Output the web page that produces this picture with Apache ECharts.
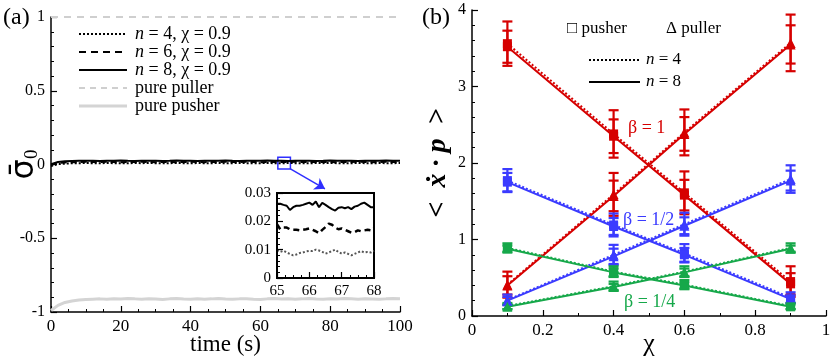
<!DOCTYPE html>
<html>
<head>
<meta charset="utf-8">
<script src="https://cdn.jsdelivr.net/npm/echarts@6/dist/echarts.min.js"></script>
<style>
  html, body { margin: 0; padding: 0; background: #fff; }
  #main { width: 830px; height: 359px; }
</style>
</head>
<body>
<div id="main"></div>
<script>
// ---- panel (a): time series, every 2 s ----
const timeA = [0,2,4,6,8,10,12,14,16,18,20,22,24,26,28,30,32,34,36,38,40,42,44,46,48,50,
  52,54,56,58,60,62,64,66,68,70,72,74,76,78,80,82,84,86,88,90,92,94,96,98,100]
const n8A = [0.002,0.017,0.022,0.024,0.025,0.026,0.025,0.024,0.026,0.025,
  0.027,0.025,0.024,0.026,0.025,0.026,0.024,0.025,0.027,0.026,
  0.025,0.024,0.026,0.025,0.026,0.027,0.025,0.024,0.025,0.026,
  0.025,0.027,0.026,0.025,0.024,0.026,0.025,0.026,0.024,0.025,
  0.027,0.026,0.025,0.026,0.024,0.025,0.026,0.025,0.027,0.025,0.026]
const n6A = [-0.004,0.010,0.014,0.016,0.017,0.018,0.017,0.016,0.018,0.017,
  0.016,0.018,0.017,0.019,0.017,0.016,0.017,0.018,0.016,0.017,
  0.018,0.017,0.016,0.018,0.017,0.019,0.017,0.016,0.018,0.017,
  0.016,0.017,0.018,0.017,0.016,0.018,0.017,0.016,0.017,0.018,
  0.017,0.016,0.018,0.017,0.019,0.017,0.016,0.017,0.018,0.017,0.017]
const n4A = [-0.010,0.003,0.006,0.008,0.009,0.010,0.009,0.008,0.010,0.009,
  0.009,0.008,0.010,0.009,0.011,0.009,0.008,0.009,0.010,0.009,
  0.008,0.010,0.009,0.009,0.010,0.008,0.009,0.011,0.009,0.008,
  0.009,0.010,0.009,0.008,0.010,0.009,0.009,0.008,0.010,0.009,
  0.011,0.009,0.008,0.009,0.010,0.009,0.008,0.010,0.009,0.009,0.010]
const pusherA = [-0.990,-0.955,-0.935,-0.925,-0.918,-0.915,-0.913,-0.911,-0.914,-0.910,
  -0.912,-0.909,-0.911,-0.914,-0.910,-0.912,-0.915,-0.911,-0.909,-0.912,
  -0.914,-0.910,-0.913,-0.911,-0.908,-0.912,-0.914,-0.911,-0.910,-0.913,
  -0.915,-0.911,-0.909,-0.912,-0.910,-0.913,-0.911,-0.908,-0.912,-0.914,
  -0.910,-0.912,-0.909,-0.911,-0.913,-0.910,-0.912,-0.914,-0.911,-0.909,-0.911]
const pullerT = [0, 100]
const pullerA = [1, 1]

// inset, 65 - 68 s
const insetT = [65,65.1,65.2,65.3,65.4,65.5,65.6,65.7,65.8,65.9,66,66.1,66.2,66.3,66.4,66.5,
  66.6,66.7,66.8,66.9,67,67.1,67.2,67.3,67.4,67.5,67.6,67.7,67.8,67.9,68]
const n8In = [0.0262,0.0262,0.0258,0.0255,0.0240,0.0250,0.0255,0.0255,0.0258,0.0262,0.0266,
  0.0258,0.0270,0.0250,0.0265,0.0258,0.0250,0.0243,0.0238,0.0248,0.0250,0.0246,
  0.0250,0.0243,0.0252,0.0255,0.0262,0.0266,0.0258,0.0250,0.0250]
const n6In = [0.0190,0.0172,0.0178,0.0178,0.0172,0.0170,0.0170,0.0168,0.0170,0.0172,0.0175,
  0.0170,0.0165,0.0158,0.0170,0.0180,0.0192,0.0188,0.0178,0.0172,0.0175,0.0170,
  0.0165,0.0160,0.0162,0.0168,0.0165,0.0168,0.0170,0.0168,0.0178]
const n4In = [0.0098,0.0092,0.0096,0.0090,0.0085,0.0080,0.0083,0.0088,0.0090,0.0094,0.0096,
  0.0095,0.0100,0.0097,0.0092,0.0086,0.0090,0.0095,0.0100,0.0092,0.0086,0.0090,
  0.0085,0.0080,0.0085,0.0090,0.0095,0.0090,0.0092,0.0090,0.0096]

// ---- panel (b): <x.p> against chi ----
const chiB = [0.1, 0.4, 0.6, 0.9]
const redPush8 = [3.52, 2.35, 1.58, 0.42]
const redPush4 = [3.56, 2.38, 1.61, 0.45]
const redPull8 = [0.40, 1.57, 2.38, 3.55]
const redPull4 = [0.41, 1.59, 2.40, 3.57]
const bluePush8 = [1.75, 1.17, 0.80, 0.22]
const bluePush4 = [1.77, 1.19, 0.82, 0.24]
const bluePull8 = [0.20, 0.78, 1.18, 1.77]
const bluePull4 = [0.21, 0.80, 1.20, 1.79]
const greenPush8 = [0.88, 0.57, 0.40, 0.12]
const greenPush4 = [0.89, 0.58, 0.41, 0.13]
const greenPull8 = [0.12, 0.38, 0.57, 0.88]
const greenPull4 = [0.13, 0.39, 0.58, 0.89]
// error half-widths
const redPushErr4 = [0.29, 0.31, 0.28, 0.20]
const redPushErr8 = [0.21, 0.22, 0.20, 0.14]
const redPullErr4 = [0.17, 0.28, 0.30, 0.37]
const redPullErr8 = [0.12, 0.20, 0.22, 0.25]
const bluePushErr4 = [0.15, 0.15, 0.12, 0.07]
const bluePushErr8 = [0.12, 0.11, 0.09, 0.05]
const bluePullErr4 = [0.07, 0.13, 0.15, 0.18]
const bluePullErr8 = [0.05, 0.10, 0.11, 0.13]
const greenPushErr4 = [0.06, 0.07, 0.06, 0.04]
const greenPushErr8 = [0.04, 0.05, 0.04, 0.03]
const greenPullErr4 = [0.04, 0.06, 0.07, 0.06]
const greenPullErr8 = [0.03, 0.04, 0.05, 0.04]

const RED = '#d60000'
const BLUE = '#3b3bff'
const GREEN = '#16a84a'
const SERIF = '"Liberation Serif", serif'

const chart = echarts.init(document.getElementById('main'))

function pairs(xs, ys) {
  return xs.map((x, i) => [x, ys[i]])
}

function axisCommon(split, fontSize) {
  return {
    nameMoveOverlap: false,
    axisLine: { onZero: false, lineStyle: { color: '#000', width: 1.5 } },
    axisTick: { inside: true, length: 6, lineStyle: { color: '#000', width: 1.2 } },
    minorTick: { show: true, splitNumber: split, length: 3, lineStyle: { color: '#000', width: 1 } },
    splitLine: { show: false },
    axisLabel: { color: '#000', fontFamily: SERIF, fontSize: fontSize || 16, margin: 6 }
  }
}

function lineA(name, xs, ys, color, type, width, grid) {
  return {
    name: name, type: 'line', xAxisIndex: grid, yAxisIndex: grid,
    data: pairs(xs, ys), symbol: 'none', silent: true, z: grid === 1 ? 10 : 2,
    lineStyle: { color: color, type: type, width: width },
    itemStyle: { color: color }
  }
}

function lineB(ys, color, dotted, symbol) {
  return {
    type: 'line', xAxisIndex: 2, yAxisIndex: 2, data: pairs(chiB, ys),
    symbol: symbol, symbolSize: symbol === 'triangle' ? 10 : 9, silent: true,
    z: dotted ? 2 : 4,
    lineStyle: { color: color, width: 2, type: dotted ? [2, 2] : 'solid' },
    itemStyle: { color: color }
  }
}

function errB(ys, errs, color) {
  return {
    type: 'custom', xAxisIndex: 2, yAxisIndex: 2, z: 3, silent: true,
    data: chiB.map((x, i) => [x, ys[i] - errs[i], ys[i] + errs[i]]),
    encode: { x: 0, y: [1, 2] },
    renderItem(params, api) {
      const lo = api.coord([api.value(0), api.value(1)])
      const hi = api.coord([api.value(0), api.value(2)])
      const hw = 5
      const style = { stroke: color, lineWidth: 2.2 }
      return {
        type: 'group',
        children: [
          { type: 'line', shape: { x1: lo[0], y1: lo[1], x2: hi[0], y2: hi[1] }, style },
          { type: 'line', shape: { x1: lo[0] - hw, y1: lo[1], x2: lo[0] + hw, y2: lo[1] }, style },
          { type: 'line', shape: { x1: hi[0] - hw, y1: hi[1], x2: hi[0] + hw, y2: hi[1] }, style }
        ]
      }
    }
  }
}

const groupsB = [
  [redPush8, redPush4, redPushErr8, redPushErr4, RED, 'rect'],
  [redPull8, redPull4, redPullErr8, redPullErr4, RED, 'triangle'],
  [bluePush8, bluePush4, bluePushErr8, bluePushErr4, BLUE, 'rect'],
  [bluePull8, bluePull4, bluePullErr8, bluePullErr4, BLUE, 'triangle'],
  [greenPush8, greenPush4, greenPushErr8, greenPushErr4, GREEN, 'rect'],
  [greenPull8, greenPull4, greenPullErr8, greenPullErr4, GREEN, 'triangle']
]
const seriesB = []
groupsB.forEach(g => {
  seriesB.push(lineB(g[1], g[4], true, g[5]))
  seriesB.push(lineB(g[0], g[4], false, g[5]))
  seriesB.push(errB(g[1], g[3], g[4]))
  seriesB.push(errB(g[0], g[2], g[4]))
})

const n8Series = lineA('n = 8', timeA, n8A, '#000', 'solid', 2, 0)
n8Series.markArea = {
  silent: true,
  itemStyle: { color: 'rgba(0,0,0,0)', borderColor: '#2f2fff', borderWidth: 1.5 },
  data: [[{ xAxis: 65, yAxis: -0.03 }, { xAxis: 68.6, yAxis: 0.05 }]]
}
n8Series.markLine = {
  silent: true, symbol: ['none', 'arrow'], symbolSize: 10,
  label: { show: false },
  lineStyle: { color: '#2f2fff', width: 1.5, type: 'solid' },
  data: [[{ coord: [68.6, -0.03] }, { coord: [78.5, -0.165] }]]
}

// legend samples drawn as graphics
function legLine(x1, x2, y, color, dash, width) {
  return { type: 'line', z: 20, shape: { x1: x1, y1: y, x2: x2, y2: y },
    style: { stroke: color, lineWidth: width, lineDash: dash } }
}
function legText(x, y, text, size, color) {
  return { type: 'text', z: 20, x: x, y: y,
    style: { text: text, font: size + 'px "Liberation Serif"', fill: color || '#000',
      verticalAlign: 'middle',
      rich: { i: { font: 'italic ' + size + 'px "Liberation Serif"', fill: color || '#000' } } } }
}

const option = {
  animation: false,
  backgroundColor: '#fff',
  textStyle: { fontFamily: SERIF },
  grid: [
    { left: 51, top: 17, width: 349, height: 295, outerBoundsMode: 'none' },
    { left: 277, top: 193, width: 97, height: 85, show: true, borderColor: '#000', borderWidth: 2, backgroundColor: 'transparent', outerBoundsMode: 'none' },
    { left: 472, top: 10, width: 354, height: 306, outerBoundsMode: 'none' }
  ],
  xAxis: [
    Object.assign(axisCommon(4, 17), {
      gridIndex: 0, type: 'value', min: 0, max: 100, interval: 20,
      name: 'time (s)', nameLocation: 'middle', nameGap: 21,
      nameTextStyle: { color: '#000', fontFamily: SERIF, fontSize: 23 }
    }),
    Object.assign(axisCommon(4, 15), {
      gridIndex: 1, type: 'value', min: 65, max: 68, interval: 1, z: 12,
      axisLine: { onZero: false, lineStyle: { color: '#000', width: 2 } }
    }),
    Object.assign(axisCommon(2, 17), {
      gridIndex: 2, type: 'value', min: 0, max: 1, interval: 0.2,
      name: 'χ', nameLocation: 'middle', nameGap: 15,
      nameTextStyle: { color: '#000', fontFamily: SERIF, fontSize: 26 }
    })
  ],
  yAxis: [
    Object.assign(axisCommon(5, 16), {
      gridIndex: 0, type: 'value', min: -1, max: 1, interval: 0.5,
      name: '{s|σ\u0304}{sub|0}', nameLocation: 'middle', nameGap: 9,
      nameTextStyle: {
        color: '#000',
        rich: {
          s: { fontFamily: 'DejaVu Sans', fontSize: 32, color: '#000' },
          sub: { fontFamily: SERIF, fontSize: 19, color: '#000', padding: [16, 0, 0, 0] }
        }
      }
    }),
    Object.assign(axisCommon(5, 15), {
      gridIndex: 1, type: 'value', min: 0, max: 0.03, interval: 0.01, z: 12,
      axisLine: { onZero: false, lineStyle: { color: '#000', width: 2 } }
    }),
    Object.assign(axisCommon(5, 16), {
      gridIndex: 2, type: 'value', min: 0, max: 4, interval: 1,
      name: '<  ẋ · p  >', nameLocation: 'middle', nameGap: 20,
      nameTextStyle: { color: '#000', fontFamily: SERIF, fontSize: 28, fontWeight: 'bold', fontStyle: 'italic' }
    })
  ],
  graphic: [
    { type: 'text', left: 3, top: 6, style: { text: '(a)', font: '24px "Liberation Serif"', fill: '#000' } },
    { type: 'text', left: 422, top: 6, style: { text: '(b)', font: '24px "Liberation Serif"', fill: '#000' } },
    // panel (a) legend
    legLine(79, 127, 34, '#000', [2, 2], 2),
    legLine(79, 127, 52, '#000', [7, 5], 2),
    legLine(79, 127, 70, '#000', null, 2),
    legLine(79, 127, 88, '#cfcfcf', [6, 5], 2),
    legLine(79, 127, 106, '#d4d4d4', null, 3),
    legText(135, 34, '{i|n} = 4, χ = 0.9', 18),
    legText(135, 52, '{i|n} = 6, χ = 0.9', 18),
    legText(135, 70, '{i|n} = 8, χ = 0.9', 18),
    legText(135, 88, 'pure puller', 18),
    legText(135, 106, 'pure pusher', 18),
    // panel (b) legend
    legText(567, 29, '□ pusher', 17),
    legText(666, 29, 'Δ puller', 17),
    legLine(589, 640, 60, '#000', [2, 2], 2),
    legLine(589, 640, 82, '#000', null, 2),
    legText(646, 60, '{i|n} = 4', 17),
    legText(646, 82, '{i|n} = 8', 17),
    legText(628, 128, 'β = 1', 18, RED),
    legText(623, 220, 'β = 1/2', 18, BLUE),
    legText(624, 302, 'β = 1/4', 18, GREEN)
  ],
  series: [
    lineA('pure puller', pullerT, pullerA, '#cfcfcf', [7, 6], 2, 0),
    lineA('pure pusher', timeA, pusherA, '#d4d4d4', 'solid', 3, 0),
    lineA('n = 4', timeA, n4A, '#000', [2, 2], 2, 0),
    lineA('n = 6', timeA, n6A, '#000', [6, 4], 2, 0),
    n8Series,
    lineA('inset n8', insetT, n8In, '#000', 'solid', 2, 1),
    lineA('inset n6', insetT, n6In, '#000', [6, 4], 2.5, 1),
    lineA('inset n4', insetT, n4In, '#555', [2, 2], 2, 1)
  ].concat(seriesB)
}

chart.setOption(option)
</script>
</body>
</html>
